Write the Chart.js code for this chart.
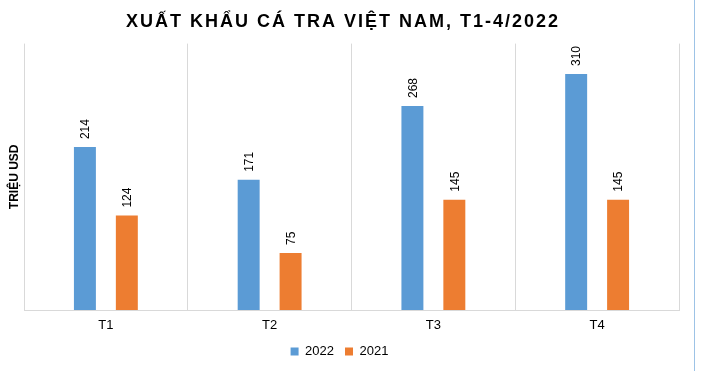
<!DOCTYPE html>
<html>
<head>
<meta charset="utf-8">
<script src="https://cdn.jsdelivr.net/npm/chart.js@4/dist/chart.umd.min.js"></script>
<style>
  html, body { margin: 0; padding: 0; background: #fff; }
  #wrap { position: relative; width: 704px; height: 371px; }
  #edge { position: absolute; left: 694px; top: 0; width: 1px; height: 371px; background: #9dc3e6; }
</style>
</head>
<body>
<div id="wrap">
  <canvas id="chartCanvas" width="704" height="371"></canvas>
  <div id="edge"></div>
</div>
<script>
let months = ['T1', 'T2', 'T3', 'T4'];
let values2022 = [214, 171, 268, 310];
let values2021 = [124, 75, 145, 145];
let yMax = 350;
let chartTitle = 'XUẤT KHẨU CÁ TRA VIỆT NAM, T1-4/2022';

// rotated value labels above each bar
let barLabels = {
  id: 'barLabels',
  afterDatasetsDraw(chart) {
    let ctx = chart.ctx;
    ctx.save();
    ctx.font = '12px "Liberation Sans", Arial, sans-serif';
    ctx.fillStyle = '#000';
    ctx.textAlign = 'left';
    ctx.textBaseline = 'middle';
    chart.data.datasets.forEach((ds, i) => {
      chart.getDatasetMeta(i).data.forEach((bar, j) => {
        ctx.save();
        ctx.translate(bar.x + 1, bar.y - 8);
        ctx.rotate(-Math.PI / 2);
        ctx.fillText(String(ds.data[j]), 0, 0);
        ctx.restore();
      });
    });
    ctx.restore();
  }
};

// title drawn by hand so it can have letter spacing; the built-in title only keeps the room
let spacedTitle = {
  id: 'spacedTitle',
  afterDraw(chart) {
    let ctx = chart.ctx;
    let tb = chart.titleBlock;
    ctx.save();
    ctx.font = 'bold 18px "Liberation Sans", Arial, sans-serif';
    ctx.letterSpacing = '2px';
    ctx.fillStyle = '#000';
    ctx.textAlign = 'center';
    ctx.textBaseline = 'middle';
    ctx.fillText(chartTitle, 343, tb.top + 12 + 10);
    ctx.restore();
  }
};

// fixed legend height so the plot bottom lands where it should
let legendHeight = {
  id: 'legendHeight',
  beforeInit(chart) {
    let fit = chart.legend.fit;
    chart.legend.fit = function() {
      fit.call(this);
      this.height = 37;
    };
  }
};

let ctx = document.getElementById('chartCanvas').getContext('2d');
let chartInstance = new Chart(ctx, {
  type: 'bar',
  data: {
    labels: months,
    datasets: [{
      label: '2022',
      data: values2022,
      backgroundColor: '#5b9bd5',
      categoryPercentage: 0.512,
      barPercentage: 0.524
    },
    {
      label: '2021',
      data: values2021,
      backgroundColor: '#ed7d31',
      categoryPercentage: 0.512,
      barPercentage: 0.524
    }]
  },
  options: {
    responsive: false,
    animation: false,
    layout: { padding: { left: 0, right: 25, top: 0, bottom: 0 } },
    plugins: {
      title: {
        display: true,
        text: chartTitle,
        color: 'rgba(0,0,0,0)',
        font: { family: '"Liberation Sans", Arial, sans-serif', size: 18, weight: 'bold' },
        padding: { top: 12, bottom: 10 }
      },
      legend: {
        position: 'bottom',
        labels: {
          color: '#000',
          font: { family: '"Liberation Sans", Arial, sans-serif', size: 13 },
          boxWidth: 8,
          boxHeight: 8,
          padding: 11
        }
      },
      tooltip: { enabled: false }
    },
    scales: {
      x: {
        grid: { display: true, offset: true, color: '#d9d9d9', drawTicks: false },
        border: { display: true, color: '#d9d9d9' },
        ticks: {
          color: '#000',
          font: { family: '"Liberation Sans", Arial, sans-serif', size: 13 },
          padding: 8
        },
        afterFit(scale) { scale.height = 24; }
      },
      y: {
        min: 0,
        max: yMax,
        grid: { display: false },
        border: { display: false },
        ticks: { display: false },
        title: {
          display: true,
          text: 'TRIỆU USD',
          color: '#000',
          font: { family: '"Liberation Sans", Arial, sans-serif', size: 12, weight: 'bold' },
          padding: { top: 7, bottom: 0 }
        },
        afterFit(scale) { scale.width = 24; }
      }
    }
  },
  plugins: [barLabels, spacedTitle, legendHeight]
});
</script>
</body>
</html>
